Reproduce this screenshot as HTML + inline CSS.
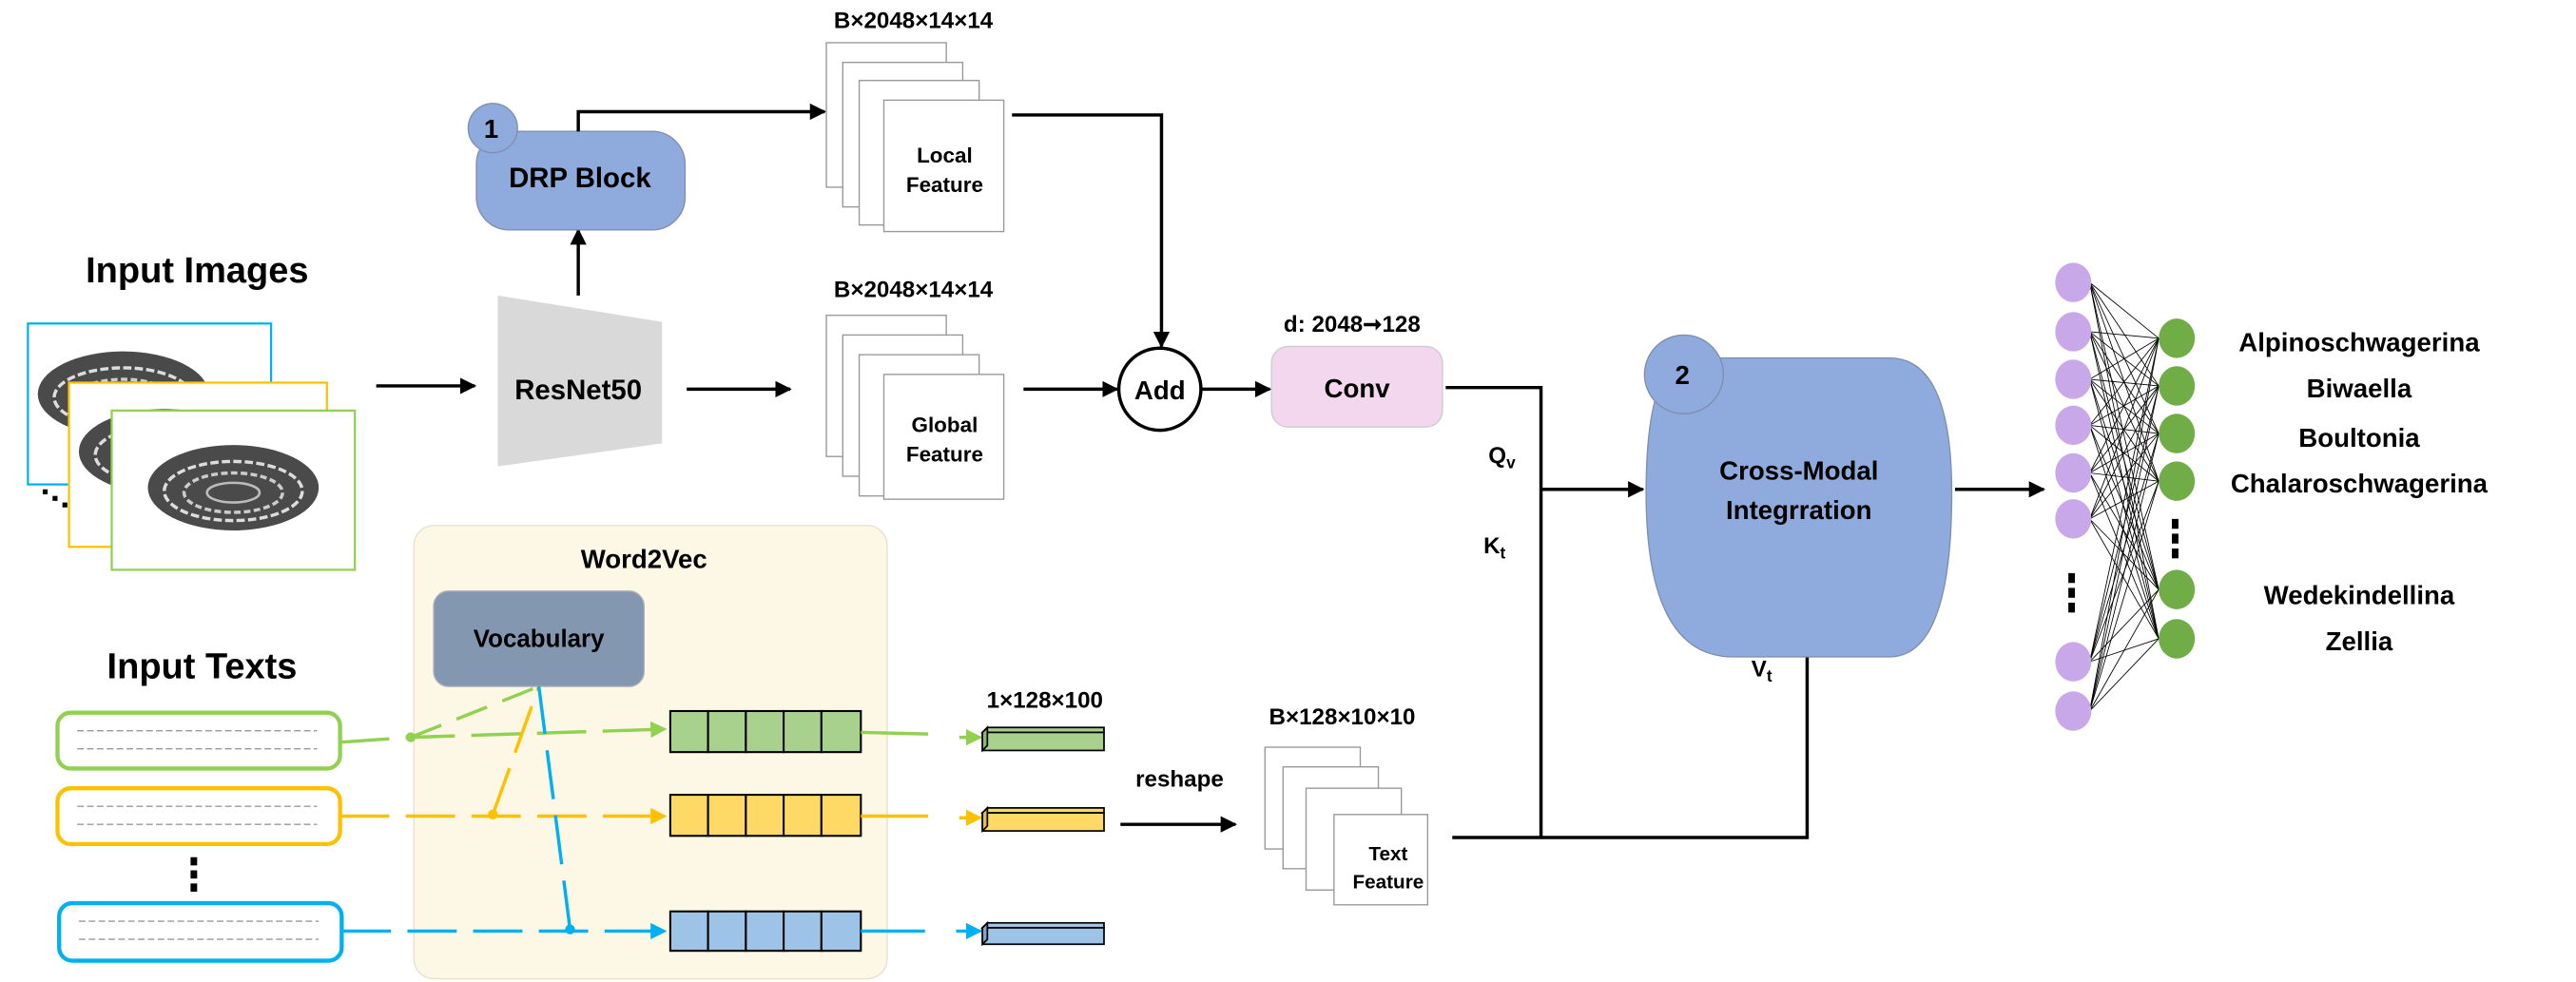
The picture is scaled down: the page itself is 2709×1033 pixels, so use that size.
<!DOCTYPE html>
<html><head><meta charset="utf-8"><style>
html,body{margin:0;padding:0;background:#fff}
svg{display:block}
text{font-family:"Liberation Sans Narrow","Liberation Sans",sans-serif;font-weight:bold;fill:#000}
</style></head><body>
<svg id="s" xmlns="http://www.w3.org/2000/svg" width="2709" height="1033" viewBox="0 0 1568 598" preserveAspectRatio="none">
<defs>
<marker id="a" markerWidth="10" markerHeight="10" refX="9" refY="5" orient="auto" markerUnits="userSpaceOnUse"><path d="M0,0 L10,5 L0,10 z" fill="#000"/></marker>
<marker id="ag" markerWidth="10" markerHeight="10" refX="9" refY="5" orient="auto" markerUnits="userSpaceOnUse"><path d="M0,0 L10,5 L0,10 z" fill="#92d050"/></marker>
<marker id="ay" markerWidth="10" markerHeight="10" refX="9" refY="5" orient="auto" markerUnits="userSpaceOnUse"><path d="M0,0 L10,5 L0,10 z" fill="#ffc000"/></marker>
<marker id="ab" markerWidth="10" markerHeight="10" refX="9" refY="5" orient="auto" markerUnits="userSpaceOnUse"><path d="M0,0 L10,5 L0,10 z" fill="#00b0f0"/></marker>
<g id="fos"><ellipse cx="0" cy="0" rx="52" ry="26" fill="#4a4a4a"/><ellipse cx="0" cy="2" rx="42" ry="18" fill="none" stroke="#ddd" stroke-width="2" stroke-dasharray="5,2"/><ellipse cx="0" cy="3" rx="30" ry="12" fill="none" stroke="#ccc" stroke-width="2" stroke-dasharray="4,2"/><ellipse cx="0" cy="3" rx="16" ry="6" fill="none" stroke="#bbb" stroke-width="1.5"/></g>
</defs>

<text x="120" y="172" font-size="22" text-anchor="middle">Input Images</text>
<rect x="17" y="197" width="148" height="98" fill="#fff" stroke="#00b0f0" stroke-width="1.3"/>
<use href="#fos" x="75" y="240"/>
<rect x="42" y="233" width="157" height="100" fill="#fff" stroke="#ffc000" stroke-width="1.3"/>
<use href="#fos" x="100" y="275"/>
<rect x="68" y="250" width="148" height="97" fill="#fff" stroke="#92d050" stroke-width="1.3"/>
<use href="#fos" x="142" y="297"/>
<g fill="#000"><rect x="26" y="298" width="3" height="3"/><rect x="32" y="302" width="3" height="3"/><rect x="38" y="306" width="3" height="3"/></g>

<line x1="229" y1="235" x2="289" y2="235" stroke="#000" stroke-width="2" marker-end="url(#a)"/>
<polygon points="303,180 403,196 403,270 303,284" fill="#d9d9d9"/>
<text x="352" y="243" font-size="17" text-anchor="middle">ResNet50</text>
<line x1="352" y1="180" x2="352" y2="140" stroke="#000" stroke-width="2" marker-end="url(#a)"/>

<rect x="290" y="80" width="127" height="60" rx="20" fill="#8faadc" stroke="#7f8fb0" stroke-width="0.8"/>
<circle cx="300" cy="78" r="15" fill="#8faadc" stroke="#7f8fb0" stroke-width="0.8"/>
<text x="299" y="84" font-size="16" text-anchor="middle" fill="#222">1</text>
<text x="353" y="114" font-size="17" text-anchor="middle" fill="#222">DRP Block</text>
<polyline points="352,80 352,68 502,68" fill="none" stroke="#000" stroke-width="2" marker-end="url(#a)"/>

<text x="556" y="17" font-size="14" text-anchor="middle">B×2048×14×14</text>
<g fill="#fff" stroke="#999" stroke-width="0.8">
<rect x="503" y="26" width="73" height="88"/><rect x="513" y="38" width="73" height="88"/><rect x="523" y="49" width="73" height="88"/><rect x="538" y="61" width="73" height="80"/></g>
<text x="575" y="99" font-size="13" text-anchor="middle">Local</text>
<text x="575" y="117" font-size="13" text-anchor="middle">Feature</text>

<text x="556" y="181" font-size="14" text-anchor="middle">B×2048×14×14</text>
<g fill="#fff" stroke="#999" stroke-width="0.8">
<rect x="503" y="192" width="73" height="86"/><rect x="513" y="204" width="73" height="86"/><rect x="523" y="216" width="73" height="86"/><rect x="538" y="228" width="73" height="76"/></g>
<text x="575" y="263" font-size="13" text-anchor="middle">Global</text>
<text x="575" y="281" font-size="13" text-anchor="middle">Feature</text>
<line x1="418" y1="237" x2="481" y2="237" stroke="#000" stroke-width="2" marker-end="url(#a)"/>
<line x1="623" y1="237" x2="680" y2="237" stroke="#000" stroke-width="2" marker-end="url(#a)"/>
<polyline points="616,70 707,70 707,211" fill="none" stroke="#000" stroke-width="2" marker-end="url(#a)"/>

<circle cx="706" cy="237" r="25" fill="#fff" stroke="#000" stroke-width="2"/>
<text x="706" y="243" font-size="16" text-anchor="middle">Add</text>
<line x1="731" y1="237" x2="773" y2="237" stroke="#000" stroke-width="2" marker-end="url(#a)"/>
<text x="823" y="202" font-size="14" text-anchor="middle">d: 2048➞128</text>
<rect x="774" y="211" width="104" height="49" rx="10" fill="#f2d7ef" stroke="#ccc" stroke-width="0.8"/>
<text x="826" y="242" font-size="16" text-anchor="middle" fill="#222">Conv</text>
<polyline points="880,236 938,236 938,510" fill="none" stroke="#000" stroke-width="2"/>
<line x1="938" y1="298" x2="1000" y2="298" stroke="#000" stroke-width="2" marker-end="url(#a)"/>
<text x="906" y="282" font-size="14">Q<tspan font-size="10" dy="3">v</tspan></text>
<text x="903" y="337" font-size="14">K<tspan font-size="10" dy="3">t</tspan></text>
<polyline points="884,510 1100,510 1100,379" fill="none" stroke="#000" stroke-width="2" marker-end="url(#a)"/>
<text x="1066" y="412" font-size="14" font-weight="normal">V<tspan font-size="10" dy="3">t</tspan></text>

<path d="M1030,218 L1150,218 Q1188,218 1188,300 Q1188,400 1150,400 L1055,400 Q1002,400 1002,300 Q1002,218 1030,218 z" fill="#8faadc" stroke="#7f8fb0" stroke-width="0.8"/>
<circle cx="1025" cy="228" r="24" fill="#8faadc" stroke="#7f8fb0" stroke-width="0.8"/>
<text x="1024" y="234" font-size="16" text-anchor="middle" fill="#222">2</text>
<text x="1095" y="292" font-size="16" text-anchor="middle" fill="#222">Cross-Modal</text>
<text x="1095" y="316" font-size="16" text-anchor="middle" fill="#222">Integrration</text>
<line x1="1190" y1="298" x2="1244" y2="298" stroke="#000" stroke-width="2" marker-end="url(#a)"/>

<g id="net" stroke="#000" stroke-width="0.5"></g>
<g id="nodes"></g>
<g fill="#000"><rect x="1259" y="349" width="4" height="6"/><rect x="1259" y="358" width="4" height="6"/><rect x="1259" y="367" width="4" height="6"/>
<rect x="1322" y="316" width="4" height="6"/><rect x="1322" y="325" width="4" height="6"/><rect x="1322" y="334" width="4" height="6"/></g>
<g font-size="16" text-anchor="middle">
<text x="1436" y="214">Alpinoschwagerina</text>
<text x="1436" y="242">Biwaella</text>
<text x="1436" y="272">Boultonia</text>
<text x="1436" y="300">Chalaroschwagerina</text>
<text x="1436" y="368">Wedekindellina</text>
<text x="1436" y="396">Zellia</text></g>

<rect x="252" y="320" width="288" height="276" rx="12" fill="#fdf7e5" stroke="#e5e0d0" stroke-width="0.8"/>
<text x="392" y="346" font-size="16" text-anchor="middle">Word2Vec</text>
<rect x="264" y="360" width="128" height="58" rx="9" fill="#8497b0" stroke="#aab" stroke-width="0.8"/>
<text x="328" y="394" font-size="15" text-anchor="middle" fill="#111">Vocabulary</text>
<text x="123" y="413" font-size="22" text-anchor="middle">Input Texts</text>

<g fill="#fff" stroke-width="2.5">
<rect x="35" y="434" width="172" height="34" rx="8" stroke="#92d050"/>
<rect x="35" y="480" width="172" height="34" rx="8" stroke="#ffc000"/>
<rect x="36" y="550" width="172" height="35" rx="8" stroke="#00b0f0"/></g>
<g stroke="#999" stroke-width="0.8" stroke-dasharray="4,2">
<line x1="47" y1="445" x2="193" y2="445"/><line x1="47" y1="456" x2="193" y2="456"/>
<line x1="47" y1="491" x2="193" y2="491"/><line x1="47" y1="502" x2="193" y2="502"/>
<line x1="48" y1="561" x2="194" y2="561"/><line x1="48" y1="572" x2="194" y2="572"/></g>
<g fill="#000"><rect x="116" y="522" width="4" height="5"/><rect x="116" y="530" width="4" height="5"/><rect x="116" y="538" width="4" height="5"/></g>

<g stroke-width="2" fill="none">
<polyline points="207,452 250,449 405,444" stroke="#92d050" stroke-dasharray="30,10" marker-end="url(#ag)"/>
<polyline points="250,449 328,418" stroke="#92d050" stroke-dasharray="20,10"/>
<line x1="207" y1="497" x2="405" y2="497" stroke="#ffc000" stroke-dasharray="30,10" marker-end="url(#ay)"/>
<line x1="300" y1="496" x2="328" y2="418" stroke="#ffc000" stroke-dasharray="30,10"/>
<line x1="208" y1="567" x2="405" y2="567" stroke="#00b0f0" stroke-dasharray="30,10" marker-end="url(#ab)"/>
<line x1="347" y1="566" x2="328" y2="418" stroke="#00b0f0" stroke-dasharray="30,10"/>
</g>
<circle cx="250" cy="449" r="3" fill="#92d050"/><circle cx="300" cy="496" r="3" fill="#ffc000"/><circle cx="347" cy="566" r="3" fill="#00b0f0"/>

<g stroke="#000" stroke-width="1.2">
<g fill="#a9d18e"><rect x="408" y="433" width="23" height="25"/><rect x="431" y="433" width="23" height="25"/><rect x="454" y="433" width="23" height="25"/><rect x="477" y="433" width="23" height="25"/><rect x="500" y="433" width="24" height="25"/></g>
<g fill="#ffd966"><rect x="408" y="484" width="23" height="25"/><rect x="431" y="484" width="23" height="25"/><rect x="454" y="484" width="23" height="25"/><rect x="477" y="484" width="23" height="25"/><rect x="500" y="484" width="24" height="25"/></g>
<g fill="#9dc3e6"><rect x="408" y="555" width="23" height="24"/><rect x="431" y="555" width="23" height="24"/><rect x="454" y="555" width="23" height="24"/><rect x="477" y="555" width="23" height="24"/><rect x="500" y="555" width="24" height="24"/></g>
</g>
<g stroke-width="2" fill="none">
<polyline points="524,446 565,447" stroke="#92d050"/><line x1="584" y1="449" x2="597" y2="449" stroke="#92d050" marker-end="url(#ag)"/>
<polyline points="524,497 565,497" stroke="#ffc000"/><line x1="584" y1="498" x2="597" y2="498" stroke="#ffc000" marker-end="url(#ay)"/>
<polyline points="524,567 563,567" stroke="#00b0f0"/><line x1="582" y1="567" x2="597" y2="567" stroke="#00b0f0" marker-end="url(#ab)"/>
</g>
<g stroke="#000" stroke-width="1">
<polygon points="598,446 601,443 672,443 672,446" fill="#a9d18e"/><rect x="598" y="446" width="74" height="11" fill="#a9d18e"/><polygon points="598,446 601,443 601,454 598,457" fill="#8fb870"/>
<polygon points="598,495 601,492 672,492 672,495" fill="#ffd966"/><rect x="598" y="495" width="74" height="11" fill="#ffd966"/><polygon points="598,495 601,492 601,503 598,506" fill="#e5bf50"/>
<polygon points="598,565 601,562 672,562 672,565" fill="#9dc3e6"/><rect x="598" y="565" width="74" height="10" fill="#9dc3e6"/><polygon points="598,565 601,562 601,572 598,575" fill="#80a8cc"/>
</g>
<text x="636" y="431" font-size="14" text-anchor="middle">1×128×100</text>
<text x="718" y="479" font-size="14" text-anchor="middle">reshape</text>
<line x1="682" y1="502" x2="752" y2="502" stroke="#000" stroke-width="2" marker-end="url(#a)"/>
<text x="817" y="441" font-size="14" text-anchor="middle">B×128×10×10</text>
<g fill="#fff" stroke="#999" stroke-width="0.8">
<rect x="770" y="455" width="58" height="62"/><rect x="781" y="467" width="58" height="62"/><rect x="795" y="480" width="58" height="62"/><rect x="812" y="496" width="57" height="55"/></g>
<text x="845" y="524" font-size="12" text-anchor="middle">Text</text>
<text x="845" y="541" font-size="12" text-anchor="middle">Feature</text>
</svg>
<script>
var P=[172,202,231,259,288,316,403,433],G=[206,235,264,293,359,389];
var ns="http://www.w3.org/2000/svg",net=document.getElementById('net'),nd=document.getElementById('nodes');
P.forEach(function(p){G.forEach(function(g){var l=document.createElementNS(ns,'line');l.setAttribute('x1',1272);l.setAttribute('y1',p);l.setAttribute('x2',1314);l.setAttribute('y2',g);net.appendChild(l);});});
function e(x,y,f){var c=document.createElementNS(ns,'ellipse');c.setAttribute('cx',x);c.setAttribute('cy',y);c.setAttribute('rx',11);c.setAttribute('ry',12);c.setAttribute('fill',f);nd.appendChild(c);}
P.forEach(function(p){e(1262,p,'#c8a8e9');});G.forEach(function(g){e(1325,g,'#70ad47');});
</script>
</body></html>
